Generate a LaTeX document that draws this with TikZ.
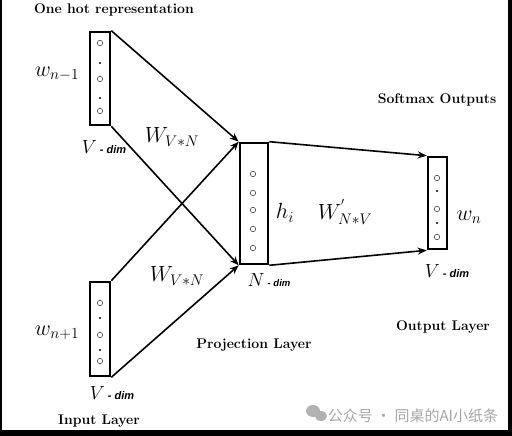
\RequirePackage{fix-cm}
\documentclass[tikz,border=0pt]{standalone}
\usepackage{fontspec}
\newfontfamily\dimfont{Liberation Sans}
\newfontfamily\cjk{Noto Sans CJK SC}
\usetikzlibrary{arrows.meta}

\newcommand{\vdim}[2]{$#1$\,{\dimfont\bfseries\itshape\fontsize{#2}{#2}\selectfont - dim}}

\begin{document}
\begin{tikzpicture}[x=1pt, y=-1pt,
        vec/.style = {draw, black, line width=2.6pt, inner sep=0pt},
        cell/.style = {draw, black!70, circle, line width=0.6pt, minimum size=5.5pt, inner sep=0pt},
        gap/.style = {fill, black, circle, minimum size=2.2pt, inner sep=0pt},
        layer/.style = {font=\fontsize{14}{16}\selectfont\bfseries},
        sym/.style = {font=\fontsize{22}{24}\selectfont},
        arrow/.style = {-{Stealth[length=9pt, width=7pt]}, line width=1.6pt}
    ]
        \useasboundingbox (0,0) rectangle (512,436);
        % screenshot frame
        \fill[black] (0,0) rectangle (2,436);
        \fill[black] (508,0) rectangle (512,436);
        \fill[black] (0,430) rectangle (512,436);

        % vectors
        \node[vec, minimum width=20pt, minimum height=93pt] (in1) at (100,78.5) {};
        \node[vec, minimum width=20pt, minimum height=94pt] (in2) at (100,329) {};
        \node[vec, minimum width=28pt, minimum height=121pt] (proj) at (254,203.5) {};
        \node[vec, minimum width=19pt, minimum height=92pt] (out) at (437.5,203) {};

        \foreach \y in {43,79,111} \node[cell] at (100,\y) {};
        \foreach \y in {63,98} \node[gap] at (100,\y) {};
        \foreach \y in {303,335,361} \node[cell] at (100,\y) {};
        \foreach \y in {318,350} \node[gap] at (100,\y) {};
        \foreach \y in {174,193,210,229,248} \node[cell] at (253,\y) {};
        \foreach \y in {178,209,237} \node[cell] at (437,\y) {};
        \foreach \y in {191,223} \node[gap] at (437,\y) {};

        % labels
        \node[layer] (onehot) at (114,10) {One hot representation};
        \node[layer] (softmax) at (437,100) {Softmax Outputs};
        \node[layer] (inlayer) at (99,421) {Input Layer};
        \node[layer] (projlayer) at (254,345) {Projection Layer};
        \node[layer] (outlayer) at (443,327) {Output Layer};

        \node[sym] (wprev) at (57,74) {$w_{n-1}$};
        \node[sym] (wnext) at (57,333) {$w_{n+1}$};
        \node[sym] (wn) at (469,217) {$w_n$};
        \node[sym] (hi) at (285,213) {$h_i$};
        \node[sym] (win1) at (172,137) {$W_{V*N}$};
        \node[sym] (win2) at (177,276) {$W_{V*N}$};
        \node[sym] (wout) at (345,212) {$W^{'}_{N*V}$};

        \node[sym, font=\fontsize{19}{21}\selectfont] (dim1) at (104,147) {\vdim{V}{11}};
        \node[sym, font=\fontsize{19}{21}\selectfont] (dim2) at (112,393) {\vdim{V}{11}};
        \node[sym, font=\fontsize{19}{21}\selectfont] (dim3) at (269,280) {\vdim{N}{9.5}};
        \node[sym, font=\fontsize{19}{21}\selectfont] (dim4) at (447,271) {\vdim{V}{11}};

        % connections
        \draw[arrow] (in1.north east) -- (proj.north west);
        \draw[arrow] (in1.south east) -- (proj.south west);
        \draw[arrow] (in2.north east) -- (proj.north west);
        \draw[arrow] (in2.south east) -- (proj.south west);
        \draw[arrow] (proj.north east) -- (out.north west);
        \draw[arrow] (proj.south east) -- (out.south west);

        % watermark
        \fill[black!30] (313,411) ellipse (7pt and 6pt);
        \fill[black!30] (321,416) ellipse (6pt and 5pt);
        \node[black!35, font=\cjk\fontsize{15}{17}\selectfont] (mark) at (413,416) {公众号 · 同桌的AI小纸条};
\end{tikzpicture}
\end{document}
